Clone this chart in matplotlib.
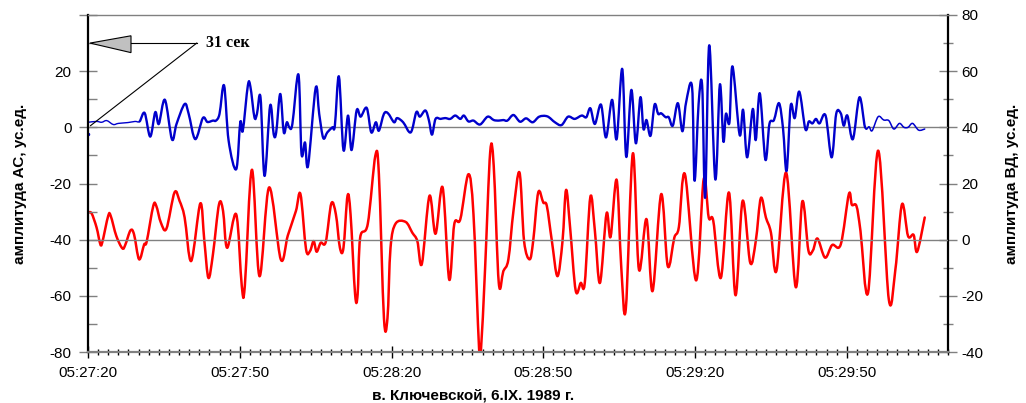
import matplotlib
matplotlib.use('Agg')
import matplotlib.pyplot as plt
from matplotlib.ticker import MultipleLocator, FuncFormatter, FixedLocator
from matplotlib.patches import Polygon, PathPatch
from matplotlib.path import Path

plt.rcParams['font.family'] = ['Liberation Sans', 'DejaVu Sans']

# ---- data: seconds after 05:27:20 ----
ac_t = [0, 1.7, 2.7, 3.7, 5.0, 6.0, 7.9, 9.3, 10.2, 11.2, 12.3, 13.3, 14.0, 15.2, 16.6, 17.5,
        19.1, 19.9, 21.2, 22.7, 23.6, 24.7, 25.3, 26.0, 26.9, 27.8, 29.3, 30.1, 30.6, 31.6,
        32.1, 32.9, 33.4, 34.1, 34.9, 36.0, 36.7, 37.2, 38.0, 38.7, 39.3, 39.8, 40.4, 41.6,
        42.2, 42.9, 43.5, 45.0, 45.7, 46.5, 47.3, 48.3, 48.8, 49.6, 50.5, 51.4, 52.1, 53.1,
        53.9, 55.1, 56.0, 56.9, 57.5, 58.5, 59.3, 60.5, 61.1, 62.3, 63.8, 64.9, 65.6, 66.7,
        67.4, 68.0, 68.7, 69.7, 70.6, 71.6, 72.6, 73.6, 74.3, 75.2, 76.2, 77.5, 79.0, 80.2,
        81.2, 82.1, 82.9, 84.1, 85.4, 86.6, 87.9, 89.2, 90.8, 92.3, 93.6, 94.9, 96.2, 97.6,
        98.5, 99.3, 100.2, 101.4, 102.4, 103.6, 104.5, 105.6, 106.4, 107.4, 108.3, 109.2,
        109.8, 110.4, 111.2, 112.0, 112.7, 113.3, 114.2, 114.8, 115.6, 116.6, 117.5, 118.2,
        119.4, 119.9, 120.7, 121.4, 122.0, 122.8, 124.0, 124.9, 125.6, 126.1, 126.8, 127.4,
        128.8, 129.5, 130.3, 131.4, 132.0, 132.8, 133.9, 134.7, 135.6, 136.6, 137.4, 138.1,
        138.9, 139.7, 140.6, 141.8, 142.5, 143.2, 143.9, 144.6, 145.8, 147.0, 147.9, 148.8,
        149.4, 150.1, 151.2, 152.5, 153.6, 154.4, 155.0, 156.2, 157.3, 158.3, 159.3, 160.4,
        161.3, 162.1, 163.0, 164.2, 165.4]
ac_v = [1.8, 2.1, 1.8, 2.4, 1.0, 1.4, 1.7, 2.1, 2.1, 5.1, -3.3, 5.4, 1.2, 9.8, -4.3, 1.2,
        8.3, 4.8, -4.2, 3.3, 1.9, 2.4, 2.4, 4.8, 14.9, -4.8, -14.9, 1.8, -1.2, 14.9,
        14.5, 3.6, 4.8, 10.7, -17.3, 7.7, -2.4, -1.8, 11.9, -1.8, 1.8, 0.0, 1.2, 18.8,
        -9.3, -5.4, -13.7, 14.0, 4.8, -3.8, -1.8, 0.0, 0.6, 18.1, -8.1, 4.2, -8.1, 6.0,
        3.8, 6.9, -1.8, 1.8, -1.2, 4.8, 5.0, 1.8, 3.3, 1.8, -1.8, 5.4, 3.8, 6.0,
        2.4, -2.6, 3.0, 3.0, 3.3, 3.0, 4.2, 3.0, 4.2, 2.1, 2.4, 1.0, 3.8, 2.6,
        2.4, 2.6, 2.4, 4.4, 2.0, 3.2, 1.8, 3.8, 3.9, 1.8, 0.8, 3.8, 3.0, 4.2,
        3.6, 6.8, 1.2, 8.1, -3.6, 9.8, -4.2, 20.8, -10.5, 13.3, -5.7, 10.7,
        -0.6, 2.6, -3.0, 8.1, 4.8, 5.0, 3.6, 3.6, 0.6, 8.6, -1.4, 8.6,
        14.5, -19.0, 8.3, 14.9, -25.0, 29.2, -18.5, 15.2, -5.0, 4.8, 1.8, 21.7,
        -2.6, 6.2, -10.7, 6.5, -4.5, 12.1, -11.5, 1.2, 2.6, 8.6, -0.6, -15.5,
        7.7, 3.3, 12.7, -0.6, 2.1, 1.4, 3.0, 1.4, 4.2, -10.7, 4.8, 5.0,
        0.6, 4.2, -4.2, 10.7, 0.0, 0.2, -1.2, 3.8, 2.6, 2.4, -0.6, 1.4,
        0.0, 0.0, 1.4, -1.0, -0.6]

vd_t = [0, 0.7, 1.7, 2.4, 2.8, 4.0, 4.5, 5.6, 6.8, 7.4, 8.4, 9.1, 10.1, 11.1, 11.6, 12.9,
        13.5, 14.4, 15.5, 17.1, 18.1, 19.1, 20.4, 22.2, 23.0, 23.8, 24.7, 25.9, 26.7, 27.5,
        29.3, 30.4, 31.0, 32.4, 33.9, 35.8, 38.1, 39.5, 41.1, 42.0, 43.1, 43.9, 44.6, 45.2,
        46.0, 47.0, 48.1, 49.0, 49.8, 50.5, 51.3, 51.9, 52.8, 53.3, 53.8, 55.3, 56.8, 57.5,
        58.5, 59.2, 59.8, 60.8, 62.8, 64.1, 65.1, 66.0, 67.5, 68.7, 70.1, 71.4, 72.4, 73.6,
        75.2, 76.2, 77.3, 77.7, 78.5, 79.5, 80.2, 81.2, 82.1, 83.1, 84.1, 85.3, 86.2, 87.3,
        88.0, 89.0, 90.0, 90.7, 91.7, 92.8, 93.8, 94.5, 95.3, 96.4, 97.4, 98.2, 99.3, 100.2,
        101.2, 102.5, 103.3, 104.5, 105.4, 106.3, 107.7, 108.9, 110.4, 111.6, 113.3, 114.6,
        115.9, 116.8, 118.0, 120.2, 121.7, 122.7, 123.6, 125.1, 126.7, 128.0, 129.4, 130.9,
        132.0, 133.0, 134.0, 135.0, 136.1, 138.0, 139.9, 141.2, 142.4, 143.3, 144.2, 145.7,
        147.1, 148.8, 150.4, 151.0, 151.9, 152.7, 154.2, 156.2, 158.3, 159.6, 160.9, 162.1,
        163.2, 163.9, 165.4]
vd_v = [9.6, 9.4, 4.3, -1.4, -1.1, 8.5, 8.4, 1.3, -3.1, -1.7, 3.3, 1.9, -7.0, -1.7, -0.7, 12.0,
        12.0, 6.1, 3.9, 16.8, 13.8, 7.9, -7.6, 12.9, -0.5, -13.6, -5.2, 12.6, 10.2, -2.9,
        9.0, -16.5, -16.5, 24.9, -13.0, 18.6, -7.0, 1.5, 10.2, 16.2, -3.4, -4.0, -0.5, -4.3,
        -1.1, -0.8, 12.9, 9.0, -2.9, -2.9, 15.6, 9.0, -19.5, -19.5, 0.7, 5.6, 29.9, 23.3,
        -27.9, -27.9, -2.9, 5.7, 6.3, 2.5, -0.5, -8.6, 15.6, 2.1, 18.6, -14.2, 5.5, 7.3,
        23.3, 9.0, -38.6, -38.6, -10.0, 31.1, 26.3, -15.4, -11.2, -7.0, 10.2, 23.9, -0.5, -7.0,
        -0.5, 16.8, 13.2, 12.0, -0.5, -13.0, -0.5, 17.7, 4.3, -18.1, -15.4, -15.4, 15.2, 3.1,
        -15.4, 9.3, 1.0, 21.3, -9.4, -24.9, 30.7, -10.6, 7.3, -18.3, 16.2, -9.4,
        0.7, 4.5, 23.3, -14.5, 21.5, 7.9, 6.7, -13.6, 16.8, -19.8, 13.8, -8.2,
        -0.5, 14.8, 7.9, 2.5, -11.0, 23.9, -16.9, 13.6, -3.8, -3.8, 0.4, -6.4,
        -1.9, -1.7, 16.2, 12.4, 12.0, 3.1, -18.9, 31.7, -21.3, -10.6, 12.6, 1.3,
        1.7, -4.3, 7.9]

ac_dot_t = [0.0]
ac_dot_v = [-2.4]

start_h, start_m, start_s = 5, 27, 20
x_major = 30
x_minor = 2


def fmt_time(s, pos=None):
    tot = int(round(start_h * 3600 + start_m * 60 + start_s + s))
    return "%02d:%02d:%02d" % (tot // 3600, (tot % 3600) // 60, tot % 60)


def smooth_path(x, y, i0, i1):
    n = len(x)
    verts = [(x[i0], y[i0])]
    codes = [Path.MOVETO]
    for i in range(i0, i1):
        a = i - 1 if i > 0 else i
        d = i + 2 if i + 2 < n else i + 1
        c1 = (x[i] + (x[i + 1] - x[a]) / 6.0, y[i] + (y[i + 1] - y[a]) / 6.0)
        c2 = (x[i + 1] - (x[d] - x[i]) / 6.0, y[i + 1] - (y[d] - y[i]) / 6.0)
        verts += [c1, c2, (x[i + 1], y[i + 1])]
        codes += [Path.CURVE4] * 3
    return Path(verts, codes)


W, H = 1026, 403
fig = plt.figure(figsize=(W / 100, H / 100), dpi=100)
ax = fig.add_axes([88 / W, 1 - 352 / H, 860 / W, 337 / H])
ax2 = ax.twinx()
ax.set_zorder(ax2.get_zorder() + 1)
ax.patch.set_visible(False)

BLUE = '#0000CC'
RED = '#FF0000'
GRID = '#808080'

ax.set_xlim(0, 170)
ax.set_ylim(-80, 40)
ax2.set_ylim(-40, 80)

# reference lines
for yv in (0, -40):
    ax.axhline(yv, color=GRID, lw=1.0, zorder=0.5)

# red series (right axis)
n_r = len(vd_t)
ax2.add_patch(PathPatch(smooth_path(vd_t, vd_v, 0, n_r - 1), fill=False, ec=RED,
                        lw=1.8, capstyle='round', joinstyle='round'))

# blue series (left axis), thin at the start and end
n_b = len(ac_t)
i_a = max(i for i in range(n_b) if ac_t[i] <= 10.2)
i_b = max(i for i in range(n_b) if ac_t[i] <= 153.6)
for (i0, i1, lw) in ((0, i_a, 1.0), (i_a, i_b, 1.7), (i_b, n_b - 1, 1.1)):
    ax.add_patch(PathPatch(smooth_path(ac_t, ac_v, i0, i1), fill=False, ec=BLUE,
                           lw=lw, capstyle='round', joinstyle='round'))
ax.plot(ac_dot_t, ac_dot_v, 'o', color=BLUE, ms=1.5)

ax.set_xlim(0, 170)
ax.set_ylim(-80, 40)
ax2.set_ylim(-40, 80)

# spines
for sp in ('left', 'top', 'bottom'):
    ax2.spines[sp].set_visible(False)
ax.spines['right'].set_visible(False)
ax.spines['left'].set_color('black')
ax.spines['left'].set_linewidth(1.6)
ax.spines['bottom'].set_color(GRID)
ax.spines['bottom'].set_linewidth(1.6)
ax.spines['top'].set_color(GRID)
ax.spines['top'].set_linewidth(1.0)
ax2.spines['right'].set_color('black')
ax2.spines['right'].set_linewidth(1.6)

# x ticks
ax.xaxis.set_major_locator(MultipleLocator(x_major))
ax.xaxis.set_minor_locator(MultipleLocator(x_minor))
ax.xaxis.set_major_formatter(FuncFormatter(fmt_time))
ax.tick_params(axis='x', which='major', direction='inout', length=8.5, width=1.0,
               labelsize=11, pad=6, color='black')
ax.tick_params(axis='x', which='minor', direction='inout', length=5, width=1.0, color='black')

# left y ticks
ax.yaxis.set_major_locator(FixedLocator([-80, -60, -40, -20, 0, 20, 40]))
ax.yaxis.set_minor_locator(MultipleLocator(10))
ax.yaxis.set_major_formatter(FuncFormatter(lambda v, p: '' if v > 30 else '%d' % v))
ax.tick_params(axis='y', which='major', direction='inout', length=12.5, width=1.0,
               labelsize=11, pad=5.5, color=GRID)
ax.tick_params(axis='y', which='minor', direction='in', length=6.5, width=1.0, color=GRID)

# right y ticks
ax2.yaxis.set_major_locator(MultipleLocator(20))
ax2.yaxis.set_minor_locator(MultipleLocator(10))
ax2.yaxis.set_major_formatter(FuncFormatter(lambda v, p: '%d' % v))
ax2.tick_params(axis='y', which='major', direction='inout', length=13, width=1.0,
                labelsize=11, pad=3, color=GRID)
ax2.tick_params(axis='y', which='minor', direction='inout', length=6.5, width=1.0, color=GRID)

# annotation "31 сек"
ax.add_patch(Polygon([(0.4, 30.0), (8.5, 32.6), (8.5, 26.6)], closed=True,
                     fc='#C0C0C0', ec='black', lw=0.8, zorder=5))
ax.plot([8.5, 21.5], [30.0, 30.0], color='black', lw=0.8, zorder=5)
ax.plot([21.5, 0.5], [30.0, 0.6], color='black', lw=0.8, zorder=5)
ax.text(23.3, 30.0, '31 сек', ha='left', va='center', fontsize=11.5, fontweight='bold',
        family=['Liberation Serif', 'DejaVu Serif'], zorder=6)

# axis titles
fig.text(20 / W, 1 - 184 / H, 'амплитуда АС, ус.ед.', rotation=90, ha='center', va='center',
         fontsize=11, fontweight='bold')
fig.text(1012 / W, 1 - 184 / H, 'амплитуда ВД, ус.ед.', rotation=90, ha='center', va='center',
         fontsize=11, fontweight='bold')
fig.text(473 / W, 1 - 395 / H, 'в. Ключевской, 6.IX. 1989 г.', ha='center', va='center',
         fontsize=11, fontweight='bold')

fig.savefig('out.png', dpi=100)
